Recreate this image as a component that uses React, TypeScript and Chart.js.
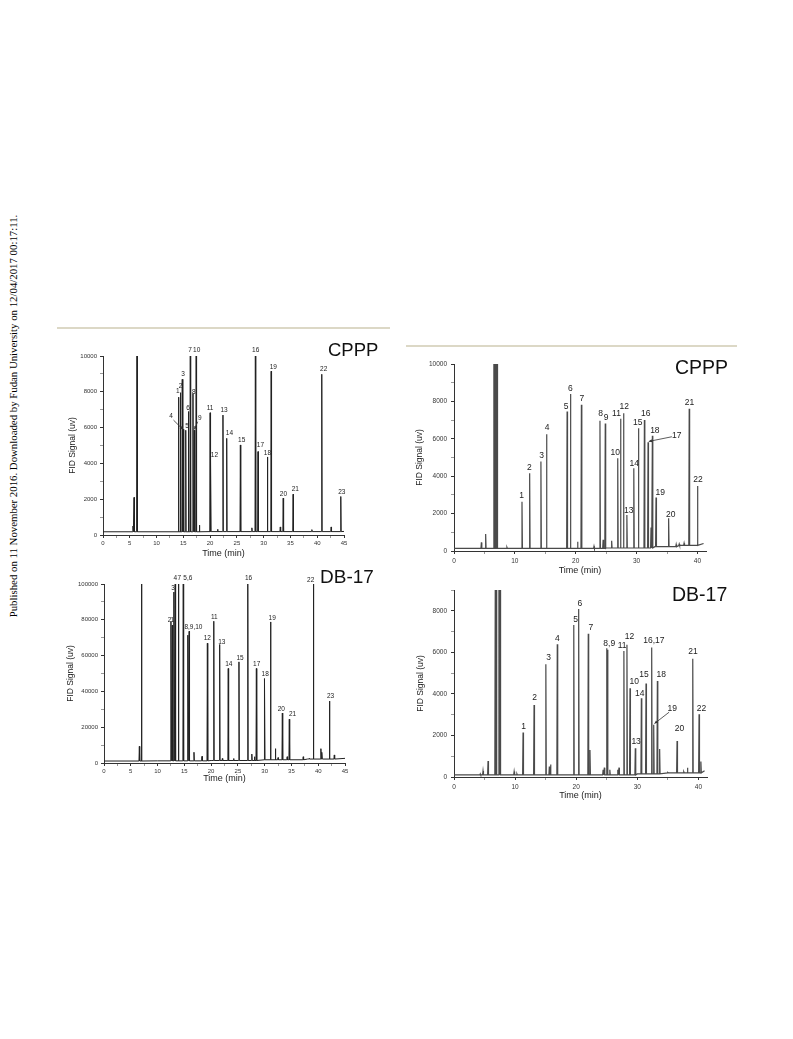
import React, { useEffect, useRef } from 'react';
import { Chart, registerables } from 'chart.js';

Chart.register(...registerables);

const FONT = '"Liberation Sans", Arial, Helvetica, sans-serif';

// ---------------- Top-left: CPPP (0-45 min) ----------------
const tlPeakTimes = [5.6, 5.8, 6.35, 14.1, 14.45, 14.8, 15.0, 15.45, 15.95, 16.3, 16.8, 17.05, 17.4, 18.0, 20.0, 20.12, 21.4, 22.4, 23.1, 25.65, 27.8, 28.45, 28.95, 30.7, 31.4, 33.1, 33.65, 35.5, 39.0, 40.85, 42.6, 44.4];
const tlPeakHeights = [500, 2100, 10000, 7700, 7950, 8700, 5900, 5850, 6900, 10000, 7900, 5850, 10000, 550, 6830, 4190, 320, 6700, 5400, 5030, 400, 10000, 4660, 4360, 9150, 450, 2060, 2280, 300, 8980, 450, 2150];
const tlBaseTimes = [0, 20, 45];
const tlBaseValues = [180, 190, 200];
const tlLabelText = ['1', '2', '3', '4', '5', '6', '7', '8', '9', '10', '11', '12', '13', '14', '15', '16', '17', '18', '19', '20', '21', '22', '23'];
const tlLabelX = [13.97, 14.5, 14.96, 12.7, 15.7, 15.9, 16.26, 16.95, 18.06, 17.5, 20.0, 20.8, 22.6, 23.6, 25.9, 28.5, 29.4, 30.7, 31.8, 33.7, 35.9, 41.2, 44.6];
const tlLabelY = [8030, 8330, 8960, 6660, 6100, 7100, 10300, 8000, 6510, 10300, 7100, 4430, 6990, 5660, 5290, 10300, 5030, 4560, 9370, 2280, 2580, 9290, 2390];
const tlArrows = [
  [13.16, 6420, 14.9, 5900],
  [17.69, 6330, 17.07, 5900],
];

// ---------------- Bottom-left: DB-17 (0-45 min) ----------------
const blPeakTimes = [6.6, 7.0, 12.5, 12.75, 13.05, 13.3, 13.9, 14.8, 15.65, 15.9, 16.8, 18.3, 19.3, 20.5, 21.6, 22.1, 23.2, 24.2, 25.2, 26.85, 27.6, 28.1, 28.45, 30.0, 31.1, 32.0, 32.5, 33.3, 34.2, 34.6, 37.2, 38.3, 39.1, 40.5, 40.7, 42.1, 43.0];
const blPeakHeights = [9300, 100000, 79000, 77000, 95500, 100000, 100000, 100000, 71400, 73600, 6000, 3700, 66900, 79200, 66200, 2500, 52800, 2500, 56500, 100000, 5000, 3500, 52800, 47200, 78800, 8000, 3000, 27900, 3500, 24500, 3500, 2500, 100000, 8000, 6000, 34600, 4500];
const blBaseTimes = [0, 10, 20, 30, 38, 45];
const blBaseValues = [1100, 1200, 1400, 1800, 2200, 2600];
const blLabelText = ['2', '1', '3', '4', '7', '5,6', '8,9,10', '12', '11', '13', '14', '15', '16', '17', '18', '19', '20', '21', '22', '23'];
const blLabelX = [12.24, 12.74, 12.9, 13.3, 14.05, 15.66, 16.7, 19.3, 20.6, 22.0, 23.3, 25.4, 27.0, 28.5, 30.1, 31.4, 33.1, 35.2, 38.6, 42.3];
const blLabelY = [79600, 79600, 97400, 103000, 103000, 103000, 76000, 69500, 81400, 67700, 55200, 58700, 103000, 55400, 49800, 80700, 30100, 27500, 101900, 37200];

// ---------------- Top-right: CPPP (0-41 min) ----------------
const trPeakTimes = [4.5, 5.2, 6.55, 6.7, 6.85, 7.0, 7.15, 8.7, 11.17, 12.43, 14.28, 15.2, 18.58, 19.13, 20.3, 20.93, 23.0, 23.98, 24.5, 24.85, 25.9, 26.9, 27.36, 27.85, 28.4, 29.54, 30.3, 31.28, 31.88, 32.37, 32.59, 33.19, 35.26, 36.5, 37.0, 37.8, 38.64, 40.0];
const trPeakHeights = [460, 910, 10000, 10000, 10000, 10000, 10000, 200, 2640, 4160, 4790, 6250, 7460, 8390, 500, 7820, 250, 6960, 600, 6820, 550, 4960, 7070, 7360, 1930, 4430, 6570, 7000, 5820, 1250, 6160, 2860, 1750, 350, 380, 420, 7610, 3480];
const trBaseTimes = [0, 25, 33, 37, 41];
const trBaseValues = [140, 160, 230, 300, 400];
const trLabelText = ['1', '2', '3', '4', '5', '6', '7', '8', '9', '10', '11', '12', '13', '14', '15', '16', '17', '18', '19', '20', '21', '22'];
const trLabelX = [11.1, 12.4, 14.4, 15.3, 18.4, 19.1, 21.0, 24.1, 25.0, 26.5, 26.7, 27.96, 28.7, 29.6, 30.2, 31.5, 36.6, 33.0, 33.9, 35.6, 38.7, 40.1];
const trLabelY = [2960, 4460, 5110, 6570, 7710, 8680, 8130, 7320, 7140, 5250, 7360, 7710, 2180, 4680, 6890, 7360, 6180, 6430, 3140, 1960, 7930, 3820];
const trArrows = [[35.8, 6110, 32.0, 5860]];

// ---------------- Bottom-right: DB-17 (0-41 min) ----------------
const brPeakTimes = [4.3, 4.75, 5.57, 6.75, 6.95, 7.35, 7.55, 9.84, 10.3, 11.3, 13.1, 15.03, 15.6, 15.8, 16.9, 19.6, 20.4, 21.97, 22.25, 24.4, 24.6, 25.0, 25.1, 25.5, 26.8, 27.0, 27.8, 28.3, 28.8, 29.67, 30.66, 31.42, 32.35, 32.68, 33.28, 33.65, 35.0, 36.5, 37.6, 38.2, 39.07, 40.1, 40.4];
const brPeakHeights = [150, 290, 770, 9000, 9000, 9000, 9000, 260, 150, 2140, 3470, 5430, 500, 600, 6390, 7320, 8090, 6900, 1300, 350, 450, 6200, 6130, 350, 350, 450, 6070, 6360, 4270, 1380, 3790, 4500, 6230, 2510, 4620, 1350, 220, 1730, 250, 450, 5690, 3020, 740];
const brBaseTimes = [0, 30, 35, 41];
const brBaseValues = [100, 150, 200, 300];
const brLabelText = ['1', '2', '3', '4', '5', '6', '7', '8,9', '11', '12', '10', '13', '14', '15', '16,17', '18', '19', '20', '21', '22'];
const brLabelX = [11.4, 13.2, 15.5, 16.9, 19.9, 20.6, 22.4, 25.4, 27.5, 28.7, 29.5, 29.8, 30.4, 31.1, 32.7, 33.9, 35.7, 36.9, 39.1, 40.5];
const brLabelY = [2410, 3820, 5750, 6680, 7580, 8320, 7190, 6420, 6300, 6750, 4590, 1700, 4030, 4910, 6580, 4910, 3280, 2340, 6010, 3280];
const brArrows = [[35.2, 3120, 32.8, 2570]];

type Spec = {
  box: { left: number; top: number; w: number; h: number };
  pad: { top: number; right: number };
  yWidth: number;
  xHeight: number;
  xMax: number;
  xStep: number;
  xMajor: number;
  yMax: number;
  yStep: number;
  yMajor: number;
  tickFont: number;
  tickPadX: number;
  tickPadY: number;
  xTitleFont: number;
  xTitlePad: number;
  yTitleFont: number;
  yTitlePad: number;
  labelFont: number;
  lineColor: string;
  lineWidth: number;
  hw: number;
  peakT: number[];
  peakH: number[];
  baseT: number[];
  baseV: number[];
  labels: string[];
  labelX: number[];
  labelY: number[];
  arrows: number[][];
};

function baseAt(baseT: number[], baseV: number[], t: number) {
  let v = baseV[0];
  for (let i = 0; i < baseT.length; i++) if (baseT[i] <= t) v = baseV[i];
  return v;
}

function buildTrace(s: Spec) {
  const events: { t: number; b?: number; h?: number }[] = [];
  s.baseT.forEach((t, i) => events.push({ t, b: s.baseV[i] }));
  s.peakT.forEach((t, i) => events.push({ t, h: s.peakH[i] }));
  events.sort((a, b) => a.t - b.t);
  const pts: { x: number; y: number }[] = [];
  for (const e of events) {
    if (e.b !== undefined) pts.push({ x: e.t, y: e.b });
    else {
      const b = baseAt(s.baseT, s.baseV, e.t);
      pts.push({ x: e.t - s.hw, y: b }, { x: e.t, y: e.h as number }, { x: e.t + s.hw, y: b });
    }
  }
  return pts;
}

function labelPlugin(s: Spec) {
  return {
    id: 'peakLabels',
    afterDatasetsDraw(chart: any) {
      const { ctx, scales } = chart;
      const x = scales.x;
      const y = scales.y;
      ctx.save();
      ctx.font = `${s.labelFont}px ${FONT}`;
      ctx.fillStyle = '#222';
      ctx.textAlign = 'center';
      ctx.textBaseline = 'middle';
      s.labels.forEach((t, i) => {
        ctx.fillText(t, x.getPixelForValue(s.labelX[i]), y.getPixelForValue(s.labelY[i]));
      });
      ctx.strokeStyle = '#333';
      ctx.fillStyle = '#333';
      ctx.lineWidth = 0.8;
      s.arrows.forEach((a) => {
        const x1 = x.getPixelForValue(a[0]);
        const y1 = y.getPixelForValue(a[1]);
        const x2 = x.getPixelForValue(a[2]);
        const y2 = y.getPixelForValue(a[3]);
        ctx.beginPath();
        ctx.moveTo(x1, y1);
        ctx.lineTo(x2, y2);
        ctx.stroke();
        const ang = Math.atan2(y2 - y1, x2 - x1);
        const L = 3.5;
        ctx.beginPath();
        ctx.moveTo(x2, y2);
        ctx.lineTo(x2 - L * Math.cos(ang - 0.45), y2 - L * Math.sin(ang - 0.45));
        ctx.lineTo(x2 - L * Math.cos(ang + 0.45), y2 - L * Math.sin(ang + 0.45));
        ctx.closePath();
        ctx.fill();
      });
      ctx.restore();
    },
  };
}

function buildConfig(s: Spec): any {
  const isMajor = (v: number, m: number) => Math.abs(v / m - Math.round(v / m)) < 1e-6;
  return {
    type: 'line',
    data: {
      datasets: [
        {
          data: buildTrace(s),
          borderColor: s.lineColor,
          borderWidth: s.lineWidth,
          pointRadius: 0,
          tension: 0,
          fill: false,
        },
      ],
    },
    options: {
      animation: false,
      responsive: false,
      devicePixelRatio: 1,
      layout: { padding: { top: s.pad.top, right: s.pad.right, left: 0, bottom: 0 } },
      plugins: { legend: { display: false }, tooltip: { enabled: false } },
      scales: {
        x: {
          type: 'linear',
          min: 0,
          max: s.xMax,
          afterFit: (sc: any) => {
            sc.height = s.xHeight;
          },
          ticks: {
            stepSize: s.xStep,
            includeBounds: false,
            autoSkip: false,
            maxRotation: 0,
            padding: s.tickPadX,
            color: '#333',
            font: { size: s.tickFont, family: FONT },
            callback: (v: number) => (isMajor(v, s.xMajor) ? String(v) : ''),
          },
          grid: {
            drawOnChartArea: false,
            drawTicks: true,
            tickLength: 3,
            color: '#333',
            lineWidth: (c: any) => (c.tick && isMajor(c.tick.value, s.xMajor) ? 1 : 0.5),
          },
          border: { display: true, color: '#333', width: 1 },
          title: {
            display: true,
            text: 'Time (min)',
            color: '#222',
            font: { size: s.xTitleFont, family: FONT },
            padding: { top: 0, bottom: s.xTitlePad },
          },
        },
        y: {
          type: 'linear',
          min: 0,
          max: s.yMax,
          afterFit: (sc: any) => {
            sc.width = s.yWidth;
          },
          ticks: {
            stepSize: s.yStep,
            includeBounds: false,
            autoSkip: false,
            padding: s.tickPadY,
            color: '#333',
            font: { size: s.tickFont, family: FONT },
            callback: (v: number) => (isMajor(v, s.yMajor) ? String(v) : ''),
          },
          grid: {
            drawOnChartArea: false,
            drawTicks: true,
            tickLength: 3,
            color: '#333',
            lineWidth: (c: any) => (c.tick && isMajor(c.tick.value, s.yMajor) ? 1 : 0.5),
          },
          border: { display: true, color: '#333', width: 1 },
          title: {
            display: true,
            text: 'FID Signal (uv)',
            color: '#222',
            font: { size: s.yTitleFont, family: FONT },
            padding: { top: s.yTitlePad, bottom: 0 },
          },
        },
      },
    },
    plugins: [labelPlugin(s)],
  };
}

const specs: Spec[] = [
  {
    box: { left: 58, top: 340, w: 300, h: 222 },
    pad: { top: 16, right: 14 },
    yWidth: 45, xHeight: 27, xMax: 45, xStep: 2.5, xMajor: 5, yMax: 10000, yStep: 1000, yMajor: 2000,
    tickFont: 6, tickPadX: 2, tickPadY: 3, xTitleFont: 9, xTitlePad: 3, yTitleFont: 8.5, yTitlePad: 10,
    labelFont: 6.5, lineColor: '#222', lineWidth: 1, hw: 0.07,
    peakT: tlPeakTimes, peakH: tlPeakHeights, baseT: tlBaseTimes, baseV: tlBaseValues,
    labels: tlLabelText, labelX: tlLabelX, labelY: tlLabelY, arrows: tlArrows,
  },
  {
    box: { left: 58, top: 568, w: 300, h: 222 },
    pad: { top: 16, right: 13 },
    yWidth: 46, xHeight: 27, xMax: 45, xStep: 2.5, xMajor: 5, yMax: 100000, yStep: 10000, yMajor: 20000,
    tickFont: 6, tickPadX: 2, tickPadY: 3, xTitleFont: 9, xTitlePad: 6, yTitleFont: 8.5, yTitlePad: 8,
    labelFont: 6.5, lineColor: '#222', lineWidth: 1, hw: 0.07,
    peakT: blPeakTimes, peakH: blPeakHeights, baseT: blBaseTimes, baseV: blBaseValues,
    labels: blLabelText, labelX: blLabelX, labelY: blLabelY, arrows: [],
  },
  {
    box: { left: 410, top: 350, w: 310, h: 228 },
    pad: { top: 14, right: 14 },
    yWidth: 44, xHeight: 27, xMax: 41.4, xStep: 5, xMajor: 10, yMax: 10000, yStep: 1000, yMajor: 2000,
    tickFont: 6.5, tickPadX: 3, tickPadY: 4, xTitleFont: 9, xTitlePad: 2.5, yTitleFont: 8.5, yTitlePad: 5,
    labelFont: 8.5, lineColor: '#4a4a4a', lineWidth: 1.2, hw: 0.07,
    peakT: trPeakTimes, peakH: trPeakHeights, baseT: trBaseTimes, baseV: trBaseValues,
    labels: trLabelText, labelX: trLabelX, labelY: trLabelY, arrows: trArrows,
  },
  {
    box: { left: 410, top: 576, w: 310, h: 232 },
    pad: { top: 14, right: 13 },
    yWidth: 44, xHeight: 31, xMax: 41.4, xStep: 5, xMajor: 10, yMax: 9000, yStep: 1000, yMajor: 2000,
    tickFont: 6.5, tickPadX: 3, tickPadY: 4, xTitleFont: 9, xTitlePad: 7.5, yTitleFont: 8.5, yTitlePad: 6,
    labelFont: 8.5, lineColor: '#4a4a4a', lineWidth: 1.2, hw: 0.07,
    peakT: brPeakTimes, peakH: brPeakHeights, baseT: brBaseTimes, baseV: brBaseValues,
    labels: brLabelText, labelX: brLabelX, labelY: brLabelY, arrows: brArrows,
  },
];

function Chromatogram({ spec }: { spec: Spec }) {
  const ref = useRef<HTMLCanvasElement | null>(null);
  useEffect(() => {
    if (!ref.current) return;
    const chart = new Chart(ref.current, buildConfig(spec));
    return () => chart.destroy();
  }, [spec]);
  return (
    <canvas
      ref={ref}
      width={spec.box.w}
      height={spec.box.h}
      style={{ position: 'absolute', left: spec.box.left, top: spec.box.top, width: spec.box.w, height: spec.box.h }}
    />
  );
}

const titles = [
  { text: 'CPPP', left: 328, baseline: 357, size: 18.5 },
  { text: 'DB-17', left: 320, baseline: 583, size: 19 },
  { text: 'CPPP', left: 675, baseline: 375, size: 19.5 },
  { text: 'DB-17', left: 672, baseline: 602, size: 19.5 },
];

export default function App() {
  return (
    <div style={{ position: 'absolute', left: 0, top: 0, width: 793, height: 1039, background: '#fff', overflow: 'hidden' }}>
      <div
        style={{
          position: 'absolute',
          left: 13,
          top: 416,
          transform: 'translate(-50%, -50%) rotate(-90deg)',
          whiteSpace: 'nowrap',
          fontFamily: '"Liberation Serif", "Times New Roman", serif',
          fontSize: 10.8,
          color: '#000',
        }}
      >
        Published on 11 November 2016. Downloaded by Fudan University on 12/04/2017 00:17:11.
      </div>
      <div style={{ position: 'absolute', left: 57, top: 327, width: 333, height: 2, background: '#dcd8c6' }} />
      <div style={{ position: 'absolute', left: 406, top: 345, width: 331, height: 2, background: '#dcd8c6' }} />
      {specs.map((s, i) => (
        <Chromatogram key={i} spec={s} />
      ))}
      {titles.map((t, i) => (
        <div
          key={'t' + i}
          style={{
            position: 'absolute',
            left: t.left,
            top: t.baseline - 0.8465 * t.size,
            fontFamily: FONT,
            fontSize: t.size,
            lineHeight: 1,
            color: '#111',
            whiteSpace: 'nowrap',
          }}
        >
          {t.text}
        </div>
      ))}
    </div>
  );
}
